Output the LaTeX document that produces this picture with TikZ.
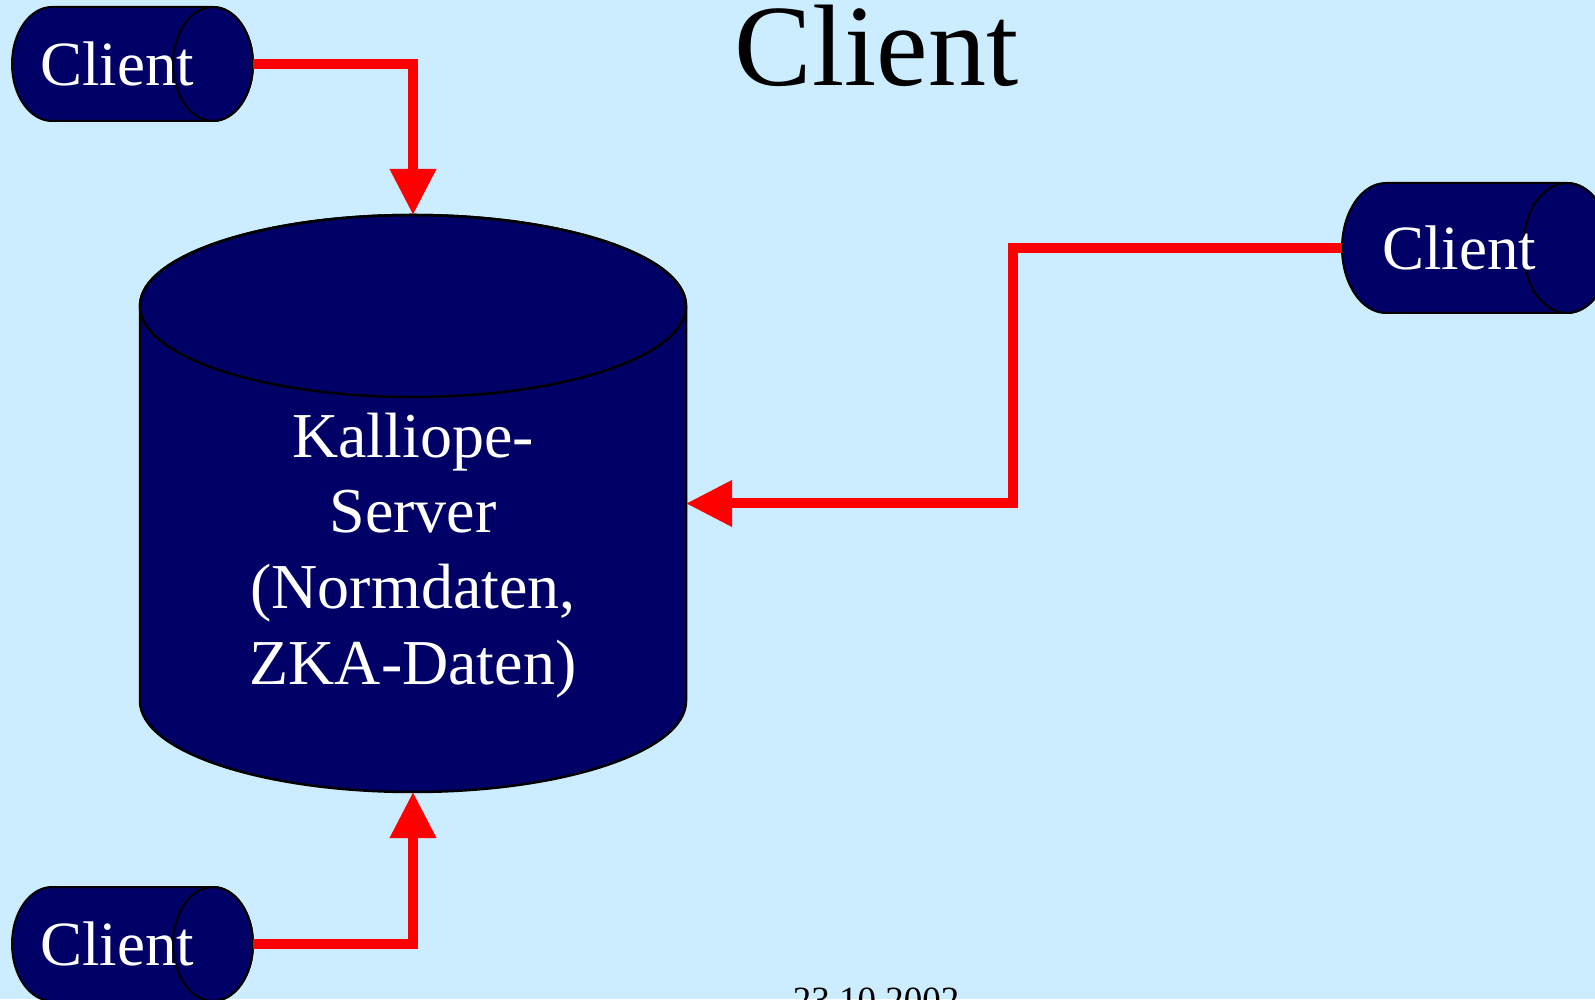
\documentclass[tikz,border=0pt]{standalone}
\usepackage{fontspec}
\setmainfont{Liberation Serif}
\usepackage{tikz}
\usetikzlibrary{positioning}
\usetikzlibrary{calc,arrows.meta,backgrounds}

\definecolor{slidebg}{HTML}{CCECFF}
\definecolor{navy}{HTML}{000066}

\tikzset{
	client/.style={rectangle, inner sep=0pt, inner xsep=28pt, outer sep=0pt, text width=185pt,
		minimum height=114pt, align=left, text=white, font=\fontsize{63}{76}\selectfont},
	server/.style={rectangle, inner sep=0pt, outer sep=0pt, minimum width=546pt, minimum height=577pt},
	servertext/.style={align=center, text=white, font=\fontsize{64}{75.7}\selectfont},
	cylbody/.style={fill=navy, draw=black, line width=2pt},
	link/.style={draw=red, line width=10pt, -{Triangle[length=46pt, width=44pt]}},
}

\begin{document}
\begin{tikzpicture}[x=1pt, y=1pt]
	\useasboundingbox (0,0) rectangle (1595,999);
	
	% server and the three clients (units are px of the slide)
	\node[server] (srv) at (413,495.5) {};
	\node[servertext] (srvtext) at (413,443.7) {Kalliope-\\Server\\(Normdaten,\\ZKA-Daten)};
	
	\node[client] (ClientA) at (132.5,935) {Client};
	\node[client, inner xsep=40pt, text width=189pt, minimum height=130pt] (ClientB) at (1476.5,751) {Client};
	\node[client] (ClientC) at (132.5,55) {Client};
	
	% heading and date
	\node[font=\fontsize{116}{120}\selectfont, anchor=base] (title) at (876.5,913) {Client};
	\node[font=\fontsize{37}{44}\selectfont, anchor=base] (date) at (876,-13) {23.10.2002};
	
	% cylinder bodies go behind the texts
	\begin{scope}[on background layer]
		\fill[slidebg] (0,0) rectangle (1595,999);
		
		\filldraw[cylbody, line width=2.5pt] ($(srv.north west)+(0,-91)$) -- ($(srv.south west)+(0,91)$)
			arc[start angle=180, end angle=360, x radius=273, y radius=91]
			-- ($(srv.north east)+(0,-91)$)
			arc[start angle=0, end angle=180, x radius=273, y radius=91] -- cycle;
		\draw[line width=2.5pt] ($(srv.north)+(0,-91)$) ellipse[x radius=273, y radius=91];
		
		% lying cylinders: name/end radius/half height
		\foreach \nm/\rx/\ry in {ClientA/40/57, ClientB/44/65, ClientC/40/57} {
			\filldraw[cylbody] ($(\nm.north west)+(\rx,0)$) -- ($(\nm.north east)+(-\rx,0)$)
				arc[start angle=90, end angle=-90, x radius=\rx, y radius=\ry]
				-- ($(\nm.south west)+(\rx,0)$)
				arc[start angle=270, end angle=90, x radius=\rx, y radius=\ry] -- cycle;
			\draw[line width=2pt] ($(\nm.east)+(-\rx,0)$) ellipse[x radius=\rx, y radius=\ry];
		}
	\end{scope}
	
	% connections to the server
	\draw[link] (ClientA.east) -| (srv.north);
	\draw[link] (ClientB.west) -- ++(-329,0) |- (srv.east);
	\draw[link] (ClientC.east) -| (srv.south);
	
\end{tikzpicture}
\end{document}
